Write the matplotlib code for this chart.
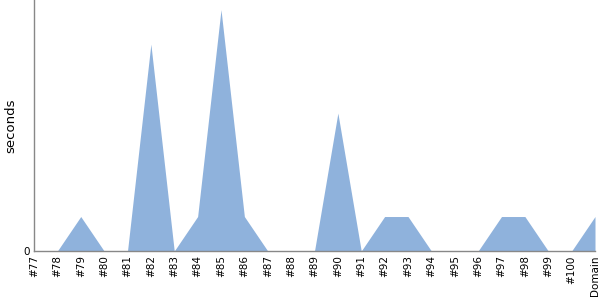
import numpy as np
import matplotlib
matplotlib.use("Agg")
import matplotlib.pyplot as plt

labels = ["#77", "#78", "#79", "#80", "#81", "#82", "#83", "#84", "#85", "#86",
          "#87", "#88", "#89", "#90", "#91", "#92", "#93", "#94", "#95", "#96",
          "#97", "#98", "#99", "#100", "Domain"]
seconds = [0, 0, 1, 0, 0, 6, 0, 1, 7, 1,
           0, 0, 0, 4, 0, 1, 1, 0, 0, 0,
           1, 1, 0, 0, 1]

fig = plt.figure(figsize=(6, 3), dpi=100)
ax = fig.add_axes([34 / 600, 1 - 251 / 300, 561 / 600, 251 / 300])

x = np.arange(len(labels))
ax.fill_between(x, seconds, 0, color="#8fb2dc", linewidth=0)

ax.set_xlim(0, len(labels) - 1)
ax.set_ylim(0, 7.28)
ax.set_xticks(x)
ax.set_xticklabels(labels, rotation=90, fontsize=7.5)
ax.set_yticks([0])
ax.set_yticklabels(["0"], fontsize=7.5)
ax.tick_params(length=0, pad=3)
ax.set_ylabel("seconds", fontsize=9.5, labelpad=4)

for s in ["top", "right"]:
    ax.spines[s].set_visible(False)
for s in ["left", "bottom"]:
    ax.spines[s].set_color("#888888")
    ax.spines[s].set_linewidth(1)

fig.savefig("out.png", dpi=100)
